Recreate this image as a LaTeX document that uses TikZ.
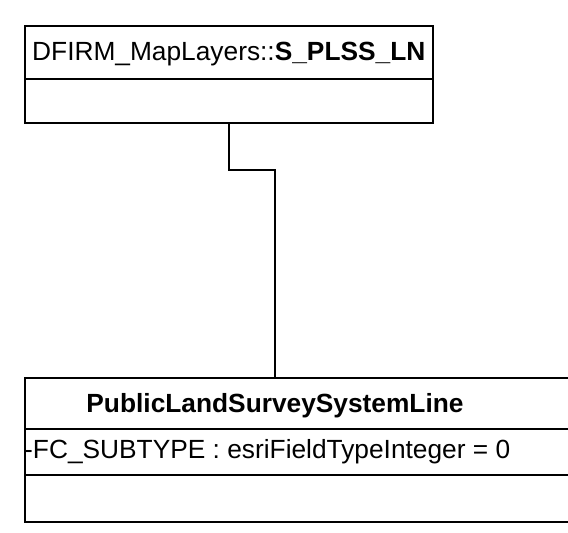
\documentclass[tikz,border=0pt]{standalone}
\usepackage{fontspec}
\setmainfont{Liberation Sans}
\usetikzlibrary{positioning}
\tikzset{
  compartment/.style={draw, line width=1.8pt, rectangle, inner sep=0pt, anchor=north west},
  umltext/.style={font=\fontsize{26.3}{31}\selectfont, inner sep=0pt},
  assoc/.style={draw, line width=1.8pt},
}
\begin{document}
\begin{tikzpicture}[x=1pt,y=-1pt]
    \useasboundingbox (0,0) rectangle (568,533);
    % DFIRM_MapLayers::S_PLSS_LN
    \node[compartment, minimum width=408pt, minimum height=53pt] (plsshead) at (24,25) {};
    \node[compartment, minimum width=408pt, minimum height=44pt] (plssops) at (24,78) {};
    \node[umltext, anchor=base west] (plsstitle) at (32,60) {DFIRM\_MapLayers::\textbf{S\_PLSS\_LN}};
    % PublicLandSurveySystemLine
    \node[compartment, minimum width=560pt, minimum height=51pt] (pslhead) at (24,377) {};
    \node[compartment, minimum width=560pt, minimum height=46pt] (pslattr) at (24,428) {};
    \node[compartment, minimum width=560pt, minimum height=47pt] (pslops) at (24,474) {};
    \node[umltext, anchor=base] (psltitle) at (275,412) {\textbf{PublicLandSurveySystemLine}};
    \node[umltext, anchor=base west] (pslfield) at (24,458) {-FC\_SUBTYPE : esriFieldTypeInteger = 0};
    % association
    \coordinate (elbow) at (275,170);
    \draw[assoc] (plssops.south) |- (elbow) -- (psltitle |- pslhead.north);
\end{tikzpicture}
\end{document}
